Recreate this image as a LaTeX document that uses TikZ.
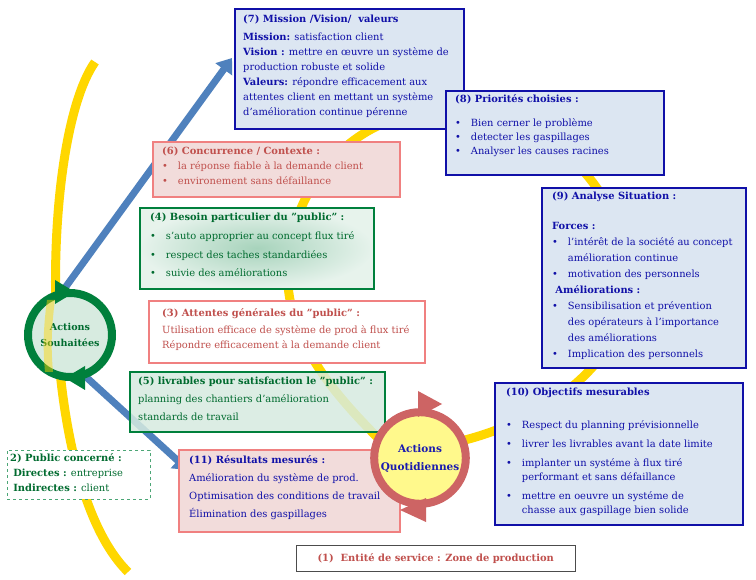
\documentclass[tikz,border=0pt]{standalone}
\usepackage{fontspec}
\setmainfont{DejaVu Serif}
\usetikzlibrary{arrows.meta}
\newcommand{\dq}{\symbol{34}}
\definecolor{bl}{HTML}{1A1AB0}
\definecolor{blb}{HTML}{1010A8}
\definecolor{blf}{HTML}{DCE6F2}
\definecolor{pk}{HTML}{F08080}
\definecolor{pkf}{HTML}{F2DCDB}
\definecolor{rd}{HTML}{C0504D}
\definecolor{gn}{HTML}{00803C}
\definecolor{gnt}{HTML}{006B2F}
\definecolor{gnf}{HTML}{D7EBE0}
\definecolor{yl}{HTML}{FFD700}
\definecolor{arr}{HTML}{4F81BD}
\definecolor{rr}{HTML}{CD6464}
\begin{document}
\begin{tikzpicture}[x=1pt,y=-1pt,
 box/.style={draw,line width=1.6pt,inner sep=0pt},
 txt/.style={anchor=north west,align=left,inner sep=0pt,font=\fontsize{9.9}{15}\selectfont}]
\useasboundingbox (0,0) rectangle (756,580);
\fill[white] (0,0) rectangle (756,580);
% yellow paths
\draw[yl,line width=9pt] (95,62) .. controls (40,140) and (35,480) .. (128,572);
\draw[yl,line width=9pt] (290,300) .. controls (275,220) and (330,120) .. (430,112)
  .. controls (530,105) and (590,160) .. (620,230)
  .. controls (660,320) and (580,410) .. (465,440);
\draw[yl,line width=9pt] (290,300) .. controls (300,350) and (330,390) .. (380,440);
% blue arrows
\draw[arr,line width=7pt,-{Triangle[length=14pt,width=20pt]}] (62,292) -- (232,58);
\draw[arr,line width=7pt,-{Triangle[length=14pt,width=20pt]}] (85,376) -- (188,470);
% (7)
\node (b7) [box,draw=blb,fill=blf,minimum width=229pt,minimum height=120pt,anchor=north west] at (234,8) {};
\node (t7) [txt,text=blb] at (243,15) {\textbf{(7) Mission /Vision/\ \ valeurs}\\[3pt]
\textbf{Mission:} satisfaction client\\
\textbf{Vision :} mettre en œuvre un système de\\
production robuste et solide\\
\textbf{Valeurs:} répondre efficacement aux\\
attentes client en mettant un système\\
d'amélioration continue pérenne};
% (8)
\node (b8) [box,draw=blb,fill=blf,minimum width=218pt,minimum height=84pt,anchor=north west] at (445,90) {};
\node (t8) [txt,text=blb] at (455,94) {\textbf{(8) Priorités choisies :}\\[9pt]
\textbullet\quad Bien cerner le problème\\[-1pt]
\textbullet\quad detecter les gaspillages\\[-1pt]
\textbullet\quad Analyser les causes racines};
% (9)
\node (b9) [box,draw=blb,fill=blf,minimum width=204pt,minimum height=180pt,anchor=north west] at (541,187) {};
\node (t9) [txt,text=blb] at (552,192) {\textbf{(9) Analyse Situation :}\\[15pt]
\textbf{Forces :}\\[1pt]
\textbullet\quad l'intérêt de la société au concept\\[1pt]
\phantom{\textbullet}\quad amélioration continue\\[1pt]
\textbullet\quad motivation des personnels\\[1pt]
\ \textbf{Améliorations :}\\[1pt]
\textbullet\quad Sensibilisation et prévention\\[1pt]
\phantom{\textbullet}\quad des opérateurs à l'importance\\[1pt]
\phantom{\textbullet}\quad des améliorations\\[1pt]
\textbullet\quad Implication des personnels};
% (10)
\node (b10) [box,draw=blb,fill=blf,minimum width=248pt,minimum height=142pt,anchor=north west] at (494,382) {};
\node (t10) [txt,text=blb] at (506,388) {\textbf{(10) Objectifs mesurables}\\[18pt]
\textbullet\quad Respect du planning prévisionnelle\\[4pt]
\textbullet\quad livrer les livrables avant la date limite\\[4pt]
\textbullet\quad implanter un systéme à flux tiré\\[-1pt]
\phantom{\textbullet}\quad performant et sans défaillance\\[4pt]
\textbullet\quad mettre en oeuvre un systéme de\\[-1pt]
\phantom{\textbullet}\quad chasse aux gaspillage bien solide};
% (6)
\node (b6) [box,draw=pk,fill=pkf,minimum width=247pt,minimum height=55pt,anchor=north west] at (152,141) {};
\node (t6) [txt,text=rd] at (162,147) {\textbf{(6) Concurrence / Contexte\ :}\\
\textbullet\quad la réponse fiable à la demande client\\
\textbullet\quad environement sans défaillance};
% (4)
\node (b4) [box,draw=gn,inner color=gnf!60!gn!70,outer color=gnf!60,minimum width=234pt,minimum height=81pt,anchor=north west] at (139,207) {};
\node (t4) [txt,text=gnt] at (150,213) {\textbf{(4) Besoin particulier du \dq public\dq\ :}\\[4pt]
\textbullet\quad s'auto approprier au concept flux tiré\\[4pt]
\textbullet\quad respect des taches standardiées\\[3pt]
\textbullet\quad suivie des améliorations};
% (3)
\node (b3) [box,draw=pk,fill=white,minimum width=276pt,minimum height=62pt,anchor=north west] at (148,300) {};
\node (t3) [txt,text=rd] at (162,308) {\textbf{(3) Attentes générales du \dq public\dq\ :}\\[2pt]
Utilisation\ efficace de système de prod à flux tiré\\
Répondre efficacement à la demande client};
% (5)
\node (b5) [box,draw=gn,fill=gnf,fill opacity=0.85,minimum width=255pt,minimum height=60pt,anchor=north west] at (129,371) {};
\node (t5) [txt,text=gnt] at (138,377) {\textbf{(5) livrables pour satisfaction le \dq public\dq\ :}\\[3pt]
planning des chantiers d'amélioration\\[3pt]
standards de travail};
% (11)
\node (b11) [box,draw=pk,fill=pkf,minimum width=221pt,minimum height=82pt,anchor=north west] at (178,449) {};
\node (t11) [txt,text=blb] at (189,455) {\textbf{(11) Résultats mesurés :}\\[3pt]
Amélioration du système de prod.\\[3pt]
Optimisation des conditions de travail\\[3pt]
Élimination des gaspillages};
% (2)
\node (b2) [draw=gn!70,dashed,fill=white,minimum width=143pt,minimum height=49pt,anchor=north west] at (7,450) {};
\node (t2) [txt,text=gnt] at (10,453) {\textbf{2) Public concerné :}\\
\ \textbf{Directes :} entreprise\\
\ \textbf{Indirectes :} client};
% (1)
\node (b1) [draw=black!70,fill=white,minimum width=279pt,minimum height=26pt,anchor=north west] at (296,545) {};
\node (t1) [text=rd,font=\fontsize{9.9}{14}\selectfont] at (b1.center) {\textbf{(1)\ \ Entité de service : Zone de production}};
% circles
\node (as) [circle,draw=gn,line width=8pt,fill=gnf,minimum size=84pt,text=gnt,align=center,font=\bfseries\fontsize{9.6}{16}\selectfont] at (70,335) {Actions\\Souhaitées};
\fill[yl,opacity=0.45] (47,300) .. controls (43,330) and (43,350) .. (45,372) -- (53,372) .. controls (51,350) and (51,330) .. (55,300) -- cycle;
\fill[gn] (55,280) -- (75,292) -- (55,304) -- cycle;
\fill[gn] (85,366) -- (65,378) -- (85,390) -- cycle;
\node (aq) [circle,draw=rr,line width=8pt,fill=yellow!45,minimum size=82pt,text=bl,align=center,font=\bfseries\fontsize{10.5}{18}\selectfont] at (420,458) {Actions\\Quotidiennes};
\fill[rr] (418,391) -- (442,404) -- (418,417) -- cycle;
\fill[rr] (426,498) -- (400,510) -- (426,522) -- cycle;
\end{tikzpicture}
\end{document}
